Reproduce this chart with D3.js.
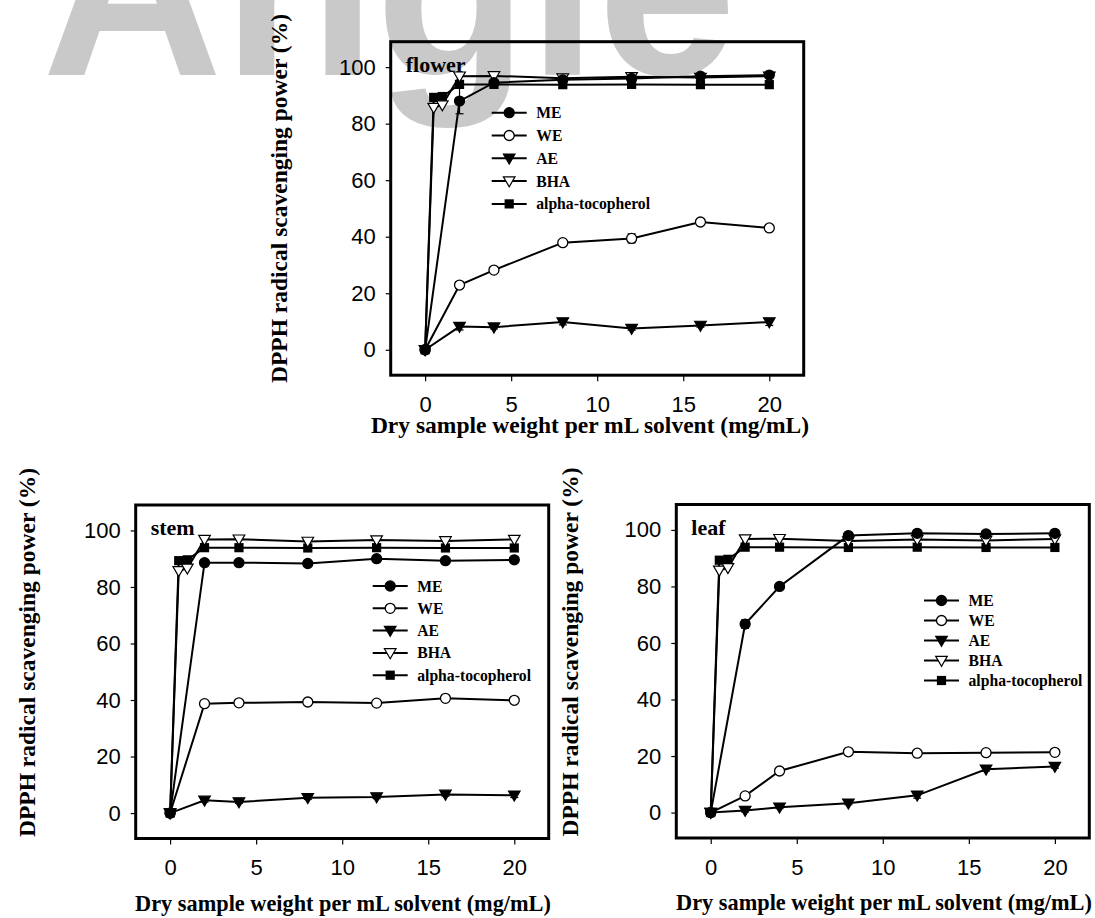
<!DOCTYPE html>
<html>
<head>
<meta charset="utf-8">
<script src="https://cdn.jsdelivr.net/npm/d3@7"></script>
<style>
  body { margin: 0; background: #fff; }
  svg { display: block; }
</style>
</head>
<body>
<svg id="chart" width="1095" height="918"></svg>
<script>
// concentrations (mg/mL)
const xStd = [0, 0.5, 1, 2, 4, 8, 12, 16, 20];
const xExt = [0, 2, 4, 8, 12, 16, 20];

// standards, same in every panel
const bhaValues = [0, 85.7, 86.6, 96.8, 96.9, 96.1, 96.6, 96.3, 96.8];
const alphaValues = [0, 89.3, 89.6, 93.9, 93.9, 93.8, 93.9, 93.8, 93.8];

const flowerME = [0, 88.0, 94.5, 95.5, 96.0, 96.8, 97.2];
const flowerWE = [0, 22.9, 28.2, 37.9, 39.4, 45.2, 43.1];
const flowerAE = [0, 8.2, 8.0, 9.8, 7.5, 8.6, 9.8];
const flowerMEerr = [0, 4.5, 0.5, 0.5, 0.5, 0.5, 0.5];
const flowerWEerr = [0, 1.2, 0.8, 0.8, 1.6, 0.6, 1.0];
const flowerAEerr = [0, 1.2, 0.6, 1.0, 0.6, 0.6, 1.2];

const stemME = [0, 88.6, 88.6, 88.3, 90.0, 89.3, 89.6];
const stemWE = [0, 38.7, 39.0, 39.3, 38.9, 40.6, 39.9];
const stemAE = [0, 4.5, 3.9, 5.4, 5.7, 6.6, 6.3];
const stemMEerr = [0, 0.6, 0.5, 0.5, 0.5, 0.5, 0.5];
const stemWEerr = [0, 0.6, 0.5, 0.5, 0.5, 0.6, 0.6];
const stemAEerr = [0, 0.6, 0.5, 0.6, 0.6, 0.6, 0.8];

const leafME = [0, 66.7, 80.0, 98.0, 98.8, 98.6, 98.8];
const leafWE = [0, 5.9, 14.7, 21.5, 21.0, 21.2, 21.3];
const leafAE = [0, 0.7, 1.9, 3.3, 6.1, 15.3, 16.3];
const leafMEerr = [0, 1.5, 0.8, 0.5, 0.5, 0.5, 0.5];
const leafWEerr = [0, 0.6, 0.6, 0.5, 0.5, 0.5, 0.5];
const leafAEerr = [0, 0.5, 0.5, 0.5, 1.0, 0.6, 0.6];

const seriesNames = ["ME", "WE", "AE", "BHA", "alpha-tocopherol"];
const xTicks = [0, 5, 10, 15, 20];
const yTicks = [0, 20, 40, 60, 80, 100];

const xTitle = "Dry sample weight per mL solvent (mg/mL)";
const yTitle = "DPPH radical scavenging power (%)";

const panels = [
  { name: "flower", left: 390.7, top: 41.7, ME: flowerME, WE: flowerWE, AE: flowerAE,
    err: [flowerMEerr, flowerWEerr, flowerAEerr],
    legend: { x: 101, y: 71, dy: 22.8 }, ylab: { x: 279, y: 198.5 }, xlab: { x: 590, y: 433, size: 23.5 } },
  { name: "stem", left: 135.7, top: 505, ME: stemME, WE: stemWE, AE: stemAE,
    err: [stemMEerr, stemWEerr, stemAEerr],
    legend: { x: 237, y: 81, dy: 22.3 }, ylab: { x: 27, y: 652.5 }, xlab: { x: 343, y: 911, size: 22.3 } },
  { name: "leaf", left: 676.3, top: 504.5, ME: leafME, WE: leafWE, AE: leafAE,
    err: [leafMEerr, leafWEerr, leafAEerr],
    legend: { x: 247.7, y: 96, dy: 20 }, ylab: { x: 570, y: 652 }, xlab: { x: 884, y: 910, size: 22.3 } }
];

const W = 413, H = 333.5;
const serif = "'Liberation Serif', 'Times New Roman', serif";
const sans = "'Liberation Sans', Arial, sans-serif";

const svg = d3.select("#chart");

// faint watermark behind everything
svg.append("text")
  .attr("x", 42).attr("y", 75)
  .attr("font-family", sans).attr("font-weight", "bold")
  .attr("font-size", 250)
  .attr("fill", "#c9c9c9")
  .text("Angle");

// marker drawing
function marker(g, type, x, y) {
  if (type === "ME" || type === "WE") {
    g.append("circle").attr("cx", x).attr("cy", y).attr("r", 5)
      .attr("fill", type === "ME" ? "#000" : "#fff")
      .attr("stroke", "#000").attr("stroke-width", 1.3);
  } else if (type === "AE" || type === "BHA") {
    g.append("path")
      .attr("d", `M${x - 5.8},${y - 4.2}L${x + 5.8},${y - 4.2}L${x},${y + 5.8}Z`)
      .attr("fill", type === "AE" ? "#000" : "#fff")
      .attr("stroke", "#000").attr("stroke-width", 1.2);
  } else {
    g.append("rect").attr("x", x - 4.6).attr("y", y - 4.6)
      .attr("width", 9.2).attr("height", 9.2).attr("fill", "#000");
  }
}

panels.forEach(p => {
  const g = svg.append("g");
  const x = d3.scaleLinear().domain([-2, 22]).range([p.left, p.left + W]);
  const y = d3.scaleLinear().domain([-9, 109]).range([p.top + H, p.top]);

  const xAxis = d3.axisBottom(x).tickValues(xTicks).tickSize(6).tickPadding(15).tickFormat(d3.format("d"));
  const yAxis = d3.axisLeft(y).tickValues(yTicks).tickSize(5).tickPadding(10).tickFormat(d3.format("d"));

  const gx = g.append("g").attr("transform", `translate(0,${p.top + H})`).call(xAxis);
  const gy = g.append("g").attr("transform", `translate(${p.left},0)`).call(yAxis);
  [gx, gy].forEach(a => {
    a.select(".domain").remove();
    a.selectAll("line").attr("stroke", "#000").attr("stroke-width", 1.2);
    a.selectAll("text").attr("font-family", sans).attr("font-size", 22).attr("fill", "#000");
  });

  const series = [
    { key: "ME", xs: xExt, ys: p.ME, err: p.err[0] },
    { key: "WE", xs: xExt, ys: p.WE, err: p.err[1] },
    { key: "AE", xs: xExt, ys: p.AE, err: p.err[2] },
    { key: "BHA", xs: xStd, ys: bhaValues, err: null },
    { key: "alpha-tocopherol", xs: xStd, ys: alphaValues, err: null }
  ];

  const line = d3.line().x(d => x(d[0])).y(d => y(d[1]));

  // error bars
  series.forEach(s => {
    if (!s.err) return;
    s.xs.forEach((xv, i) => {
      const e = s.err[i];
      if (!e) return;
      const cx = x(xv), y1 = y(s.ys[i] - e), y2 = y(s.ys[i] + e);
      g.append("line").attr("x1", cx).attr("x2", cx).attr("y1", y1).attr("y2", y2)
        .attr("stroke", "#000").attr("stroke-width", 1.2);
      [y1, y2].forEach(yy => g.append("line").attr("x1", cx - 4).attr("x2", cx + 4)
        .attr("y1", yy).attr("y2", yy).attr("stroke", "#000").attr("stroke-width", 1.2));
    });
  });

  series.forEach(s => {
    g.append("path")
      .datum(s.xs.map((xv, i) => [xv, s.ys[i]]))
      .attr("d", line)
      .attr("fill", "none").attr("stroke", "#000").attr("stroke-width", 2);
  });
  series.slice().reverse().forEach(s => {
    s.xs.forEach((xv, i) => marker(g, s.key, x(xv), y(s.ys[i])));
  });

  // frame
  g.append("rect")
    .attr("x", p.left).attr("y", p.top).attr("width", W).attr("height", H)
    .attr("fill", "none").attr("stroke", "#000").attr("stroke-width", 3);

  // panel label
  g.append("text")
    .attr("x", p.left + 15).attr("y", p.top + 30)
    .attr("font-family", serif).attr("font-weight", "bold").attr("font-size", 22)
    .text(p.name);

  // legend
  seriesNames.forEach((n, i) => {
    const ly = p.top + p.legend.y + i * p.legend.dy;
    const lx = p.left + p.legend.x;
    g.append("line").attr("x1", lx).attr("x2", lx + 35).attr("y1", ly).attr("y2", ly)
      .attr("stroke", "#000").attr("stroke-width", 2);
    marker(g, n, lx + 17.5, ly);
    g.append("text").attr("x", lx + 44.5).attr("y", ly + 5.5)
      .attr("font-family", serif).attr("font-weight", "bold").attr("font-size", 15.7)
      .text(n);
  });

  // axis titles
  g.append("text")
    .attr("x", p.xlab.x).attr("y", p.xlab.y)
    .attr("text-anchor", "middle")
    .attr("font-family", serif).attr("font-weight", "bold").attr("font-size", p.xlab.size)
    .text(xTitle);

  g.append("text")
    .attr("transform", `translate(${p.ylab.x + 8},${p.ylab.y}) rotate(-90)`)
    .attr("text-anchor", "middle")
    .attr("font-family", serif).attr("font-weight", "bold").attr("font-size", 23.5)
    .text(yTitle);
});
</script>
</body>
</html>
